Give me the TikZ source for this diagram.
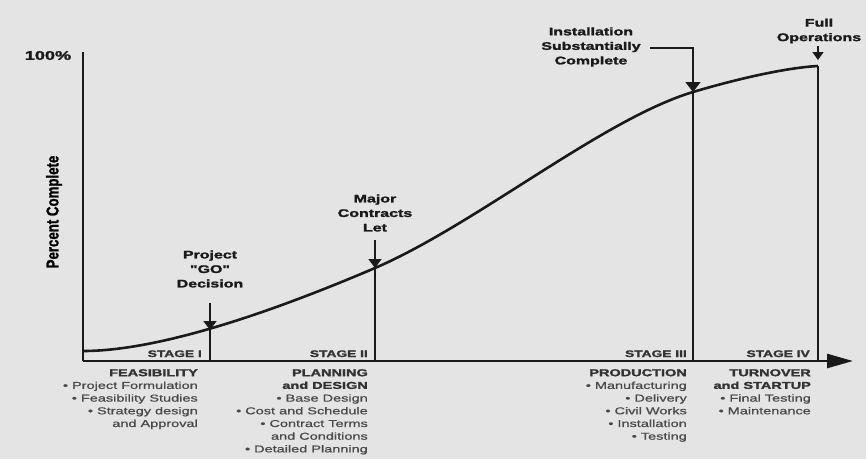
\documentclass[tikz,border=0pt]{standalone}
\usepackage{fontspec}
\setmainfont{Liberation Sans}
\newfontfamily\heavy{Liberation Sans Bold}[FakeBold=1.6]
\newfontfamily\itemfont{Liberation Sans}[FakeBold=0.7]
\usepackage{graphicx}
\usetikzlibrary{arrows.meta}
\definecolor{bg}{HTML}{E4E4E4}
\definecolor{ink}{HTML}{1A1A1A}
\definecolor{head}{HTML}{333333}
\definecolor{item}{HTML}{4A4A4A}
\newcommand\wx[1]{\scalebox{1.45}[1]{#1}}
\begin{document}
\begin{tikzpicture}[x=1pt,y=-1pt,
  lab/.style={font=\fontsize{11}{14.5}\selectfont\heavy, text=ink, align=center, inner sep=0pt},
  stagelab/.style={font=\fontsize{9.5}{11}\selectfont\heavy, text=head, inner sep=0pt, anchor=base east},
  col/.style={font=\fontsize{10}{12.7}\selectfont\itemfont, text=item, align=right, inner sep=0pt, anchor=north east},
  ln/.style={line width=1.5pt, draw=ink},
  tiparrow/.style={line width=1.5pt, draw=ink, -{Triangle[width=13pt,length=9pt]}},
]
\fill[bg] (0,0) rectangle (866,459);
\useasboundingbox (0,0) rectangle (866,459);

% key points
\coordinate (O) at (83,361);
\coordinate (Ytop) at (83,52);
\coordinate (Xend) at (853,361);
\coordinate (S0) at (83,351);
\coordinate (go) at (210,330);
\coordinate (maj) at (375,268);
\coordinate (ins) at (693,92);
\coordinate (full) at (818,66);
\coordinate (fullT) at (818,60);
\coordinate (goA) at (210,303);
\coordinate (majA) at (375,240);
\coordinate (insA) at (650,48);
\coordinate (fullA) at (818,46);

% axes
\draw[line width=1.5pt, draw=ink] (Ytop) -- (O);
\draw[line width=2.6pt, draw=ink, -{Triangle[width=14pt,length=26pt]}] (O) -- (Xend);

% S-curve
\draw[line width=2.6pt, draw=ink] (S0) .. controls (170,351) and (300,300) .. (maj)
  .. controls (475,225) and (603,119) .. (ins)
  .. controls (723,83) and (780,68) .. (full);

% dividers
\draw[ln] (go) -- (go |- O);
\draw[ln] (maj) -- (maj |- O);
\draw[ln] (ins) -- (ins |- O);
\draw[line width=2.8pt, draw=ink] (full) -- (full |- O);

% milestone labels and arrows
\node[lab] (goL) at (210,269) {\wx{Project}\\\wx{"GO"}\\\wx{Decision}};
\node[lab] (majL) at (375,213) {\wx{Major}\\\wx{Contracts}\\\wx{Let}};
\node[lab] (insL) at (591,47) {\wx{Installation}\\\wx{Substantially}\\\wx{Complete}};
\node[lab] (fullL) at (819,31) {\wx{Full}\\\wx{Operations}};
\draw[tiparrow] (goA) -- (go);
\draw[tiparrow] (majA) -- (maj);
\draw[tiparrow, -{Triangle[width=15pt,length=10pt]}] (insA) -| (ins);
\draw[tiparrow, -{Triangle[width=11pt,length=8pt]}] (fullA) -- (fullT);

% axis labels
\node[font=\fontsize{12.5}{13}\selectfont\heavy, text=ink, inner sep=0pt] (pct) at (48,55.5) {\wx{100\%}};
\node[font=\fontsize{17}{18}\selectfont\heavy, text=black, rotate=90, inner sep=0pt] (ylab) at (54,212) {\scalebox{0.78}[1]{Percent Complete}};

% stage labels
\node[stagelab] (st1) at (202,357) {\wx{STAGE I}};
\node[stagelab] (st2) at (368,357) {\wx{STAGE II}};
\node[stagelab] (st3) at (687,357) {\wx{STAGE III}};
\node[stagelab] (st4) at (810,357) {\wx{STAGE IV}};

% stage descriptions
\node[col] (c1) at (198,369) {{\heavy\color{head}\wx{FEASIBILITY}}\\
  \wx{\textbullet\ Project Formulation}\\
  \wx{\textbullet\ Feasibility Studies}\\
  \wx{\textbullet\ Strategy design}\\
  \wx{and Approval}};
\node[col] (c2) at (368,369) {{\heavy\color{head}\wx{PLANNING}}\\
  {\heavy\color{head}\wx{and DESIGN}}\\
  \wx{\textbullet\ Base Design}\\
  \wx{\textbullet\ Cost and Schedule}\\
  \wx{\textbullet\ Contract Terms}\\
  \wx{and Conditions}\\
  \wx{\textbullet\ Detailed Planning}};
\node[col] (c3) at (687,369) {{\heavy\color{head}\wx{PRODUCTION}}\\
  \wx{\textbullet\ Manufacturing}\\
  \wx{\textbullet\ Delivery}\\
  \wx{\textbullet\ Civil Works}\\
  \wx{\textbullet\ Installation}\\
  \wx{\textbullet\ Testing}};
\node[col] (c4) at (811,369) {{\heavy\color{head}\wx{TURNOVER}}\\
  {\heavy\color{head}\wx{and STARTUP}}\\
  \wx{\textbullet\ Final Testing}\\
  \wx{\textbullet\ Maintenance}};
\end{tikzpicture}
\end{document}
